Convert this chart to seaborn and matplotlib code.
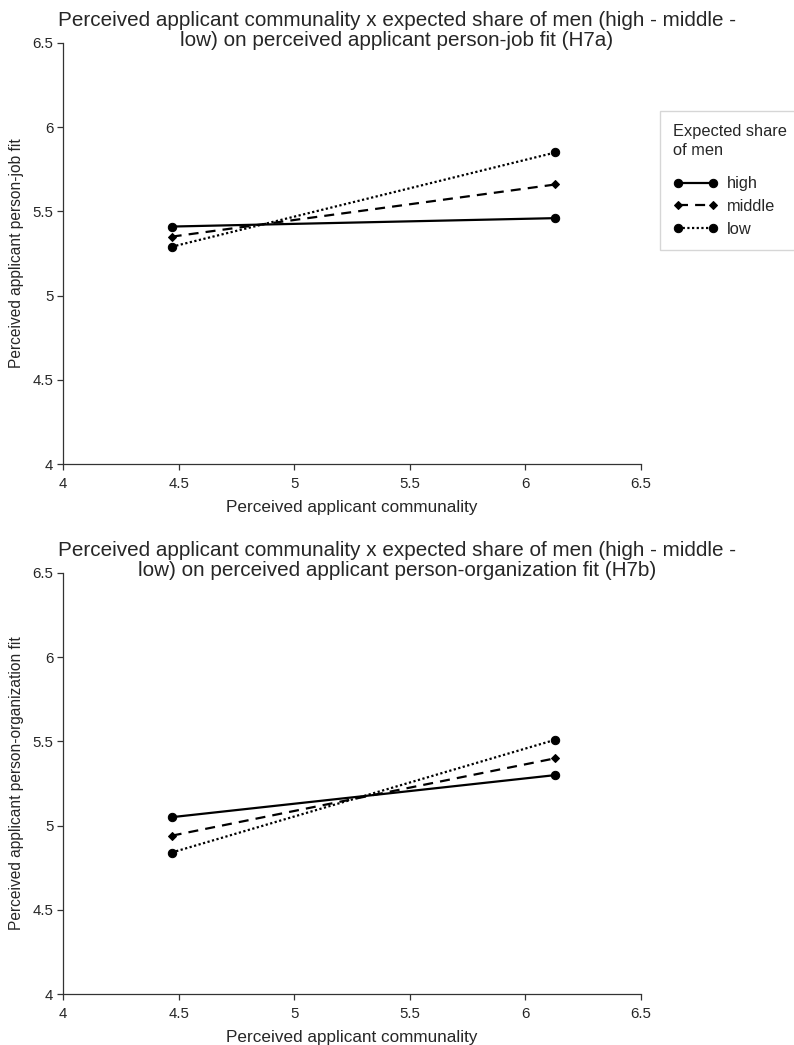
import pandas as pd
import matplotlib
matplotlib.use("Agg")
import matplotlib.pyplot as plt
import seaborn as sns

# values
communality = [4.47, 6.13]
share_levels = ["high", "middle", "low"]
job_fit_high = [5.41, 5.46]
job_fit_middle = [5.35, 5.66]
job_fit_low = [5.29, 5.85]
org_fit_high = [5.05, 5.30]
org_fit_middle = [4.94, 5.40]
org_fit_low = [4.84, 5.51]

ticks = [4, 4.5, 5, 5.5, 6, 6.5]
tick_labels = ["4", "4.5", "5", "5.5", "6", "6.5"]

titles = [
    "Perceived applicant communality x expected share of men (high - middle -\nlow) on perceived applicant person-job fit (H7a)",
    "Perceived applicant communality x expected share of men (high - middle -\nlow) on perceived applicant person-organization fit (H7b)",
]
ylabels = ["Perceived applicant person-job fit", "Perceived applicant person-organization fit"]
xlabel = "Perceived applicant communality"


def to_long(high, middle, low):
    rows = []
    for level, vals in zip(share_levels, [high, middle, low]):
        for x, y in zip(communality, vals):
            rows.append({"communality": x, "fit": y, "share": level})
    return pd.DataFrame(rows)


df_job = to_long(job_fit_high, job_fit_middle, job_fit_low)
df_org = to_long(org_fit_high, org_fit_middle, org_fit_low)

sns.set_theme(style="ticks")
plt.rcParams["font.family"] = ["Liberation Sans", "DejaVu Sans"]

W, H = 794, 1045
fig = plt.figure(figsize=(W / 100, H / 100), dpi=100)
ax_top = fig.add_axes([63 / W, 1 - 464 / H, 578 / W, 421 / H])
ax_bot = fig.add_axes([63 / W, 1 - 994 / H, 578 / W, 421 / H])

palette = {"high": "black", "middle": "black", "low": "black"}
dashes = {"high": "", "middle": (4.5, 3.2), "low": (1, 1.1)}
markers = {"high": "o", "middle": "D", "low": "o"}

for ax, df, title, ylab, title_y in [
    (ax_top, df_job, titles[0], ylabels[0], 11 / H),
    (ax_bot, df_org, titles[1], ylabels[1], 541 / H),
]:
    sns.lineplot(
        data=df, x="communality", y="fit", hue="share", style="share",
        hue_order=share_levels, style_order=share_levels,
        palette=palette, dashes=dashes, markers=markers,
        markersize=6, linewidth=1.6, markeredgecolor="black",
        ax=ax, legend=(ax is ax_top),
    )
    # the diamonds are drawn a bit smaller than the circles
    for line in ax.lines:
        if line.get_marker() == "D":
            line.set_markersize(4.3)
    ax.set_xlim(4, 6.5)
    ax.set_ylim(4, 6.5)
    ax.set_xticks(ticks, tick_labels)
    ax.set_yticks(ticks, tick_labels)
    ax.tick_params(axis="both", labelsize=10.8, length=4, width=0.9,
                   color="#333333", direction="out", pad=3)
    ax.tick_params(axis="x", pad=5)
    for s in ["top", "right"]:
        ax.spines[s].set_visible(False)
    for s in ["left", "bottom"]:
        ax.spines[s].set_color("#333333")
        ax.spines[s].set_linewidth(0.9)
    ax.set_xlabel(xlabel, fontsize=12.3, labelpad=7)
    ax.set_ylabel(ylab, fontsize=11.2, labelpad=6)
    fig.text(0.5, 1 - title_y, title, ha="center", va="top", fontsize=14.9,
             linespacing=1.05)

handles, labels = ax_top.get_legend_handles_labels()
ax_top.get_legend().remove()
for h in handles:
    if h.get_marker() == "D":
        h.set_markersize(4.3)
leg = fig.legend(handles, labels, title="Expected share\nof men",
                 loc="upper left", bbox_to_anchor=(660 / W, 1 - 111 / H),
                 frameon=True, fancybox=False, edgecolor="#cccccc",
                 fontsize=11.8, title_fontsize=11.8, handlelength=2.75,
                 numpoints=2, alignment="left", borderpad=0.8,
                 labelspacing=0.47, handletextpad=0.55, borderaxespad=0)
leg.get_title().set_linespacing(1.35)
leg._legend_box.sep = 13  # extra room between title and entries

fig.savefig("out.png", dpi=100)
